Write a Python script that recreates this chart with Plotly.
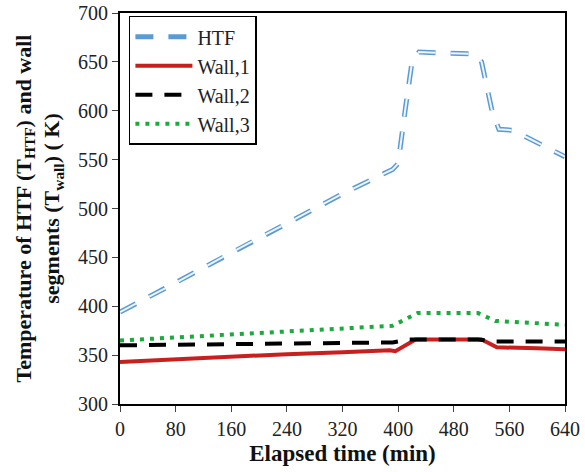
import plotly.graph_objects as go

# Elapsed time (min) and temperatures (K)
htf_t = [0, 80, 160, 240, 320, 392, 400, 410, 420, 430, 510, 520, 535, 545, 565, 640]
htf_T = [394, 424, 455, 485, 515, 540, 546, 600, 650, 660, 658, 650, 600, 581, 580, 553]

w1_t = [0, 80, 160, 240, 320, 388, 396, 425, 520, 542, 600, 640]
w1_T = [343, 346, 349, 351, 353, 355, 354, 366, 366, 358, 357, 356]

w2_t = [0, 160, 320, 392, 415, 515, 540, 640]
w2_T = [360, 361, 362, 363, 366, 366, 364, 364]

w3_t = [0, 80, 160, 240, 320, 392, 428, 515, 540, 640]
w3_T = [365, 368, 371, 374, 377, 380, 393, 393, 385, 381]

x_ticks = [0, 80, 160, 240, 320, 400, 480, 560, 640]
y_ticks = [300, 350, 400, 450, 500, 550, 600, 650, 700]

SERIF = "Times New Roman, Liberation Serif, Times, serif"

fig = go.Figure()
fig.add_trace(go.Scatter(x=htf_t, y=htf_T, mode="lines", name="HTF",
                         line=dict(color="#5b9bd5", width=5, dash="18px,15px")))
fig.add_trace(go.Scatter(x=htf_t, y=htf_T, mode="lines", name="HTF", showlegend=False,
                         line=dict(color="#eef5fc", width=2, dash="18px,15px"), hoverinfo="skip"))
fig.add_trace(go.Scatter(x=w1_t, y=w1_T, mode="lines", name="Wall,1",
                         line=dict(color="#c8201e", width=4)))
fig.add_trace(go.Scatter(x=w2_t, y=w2_T, mode="lines", name="Wall,2",
                         line=dict(color="black", width=4, dash="17px,12px")))
fig.add_trace(go.Scatter(x=w3_t, y=w3_T, mode="lines", name="Wall,3",
                         line=dict(color="#1aab3c", width=4, dash="4px,6px")))

fig.update_layout(
    width=585, height=472,
    margin=dict(l=120, r=20, t=13, b=68),
    paper_bgcolor="white", plot_bgcolor="white",
    font=dict(family=SERIF, color="#222", size=20),
    showlegend=True,
    legend=dict(x=0.02, y=0.993, xanchor="left", yanchor="top",
                bgcolor="white", bordercolor="black", borderwidth=1.5,
                font=dict(family=SERIF, size=20, color="#222"),
                itemwidth=57),
    xaxis=dict(range=[0, 640], tickvals=x_ticks, ticks="outside", ticklen=6,
               tickcolor="#444", showgrid=False, zeroline=False, automargin=False,
               showline=True, linecolor="black", linewidth=2, mirror=True,
               tickfont=dict(family=SERIF, size=20, color="#222"),
               title=dict(text="<b>Elapsed time (min)</b>", standoff=6,
                          font=dict(family=SERIF, size=23, color="#111"))),
    yaxis=dict(range=[300, 700], tickvals=y_ticks, ticks="outside", ticklen=6,
               tickcolor="#444", showgrid=False, zeroline=False, automargin=False,
               showline=True, linecolor="black", linewidth=2, mirror=True,
               tickfont=dict(family=SERIF, size=20, color="#222"),
               title=dict(text="<b>Temperature of HTF (T<sub>HTF</sub>) and wall<br>segments (T<sub>wall</sub>) ( K)</b>",
                          standoff=12,
                          font=dict(family=SERIF, size=22, color="#111"))),
)

fig.write_html("out.html")
